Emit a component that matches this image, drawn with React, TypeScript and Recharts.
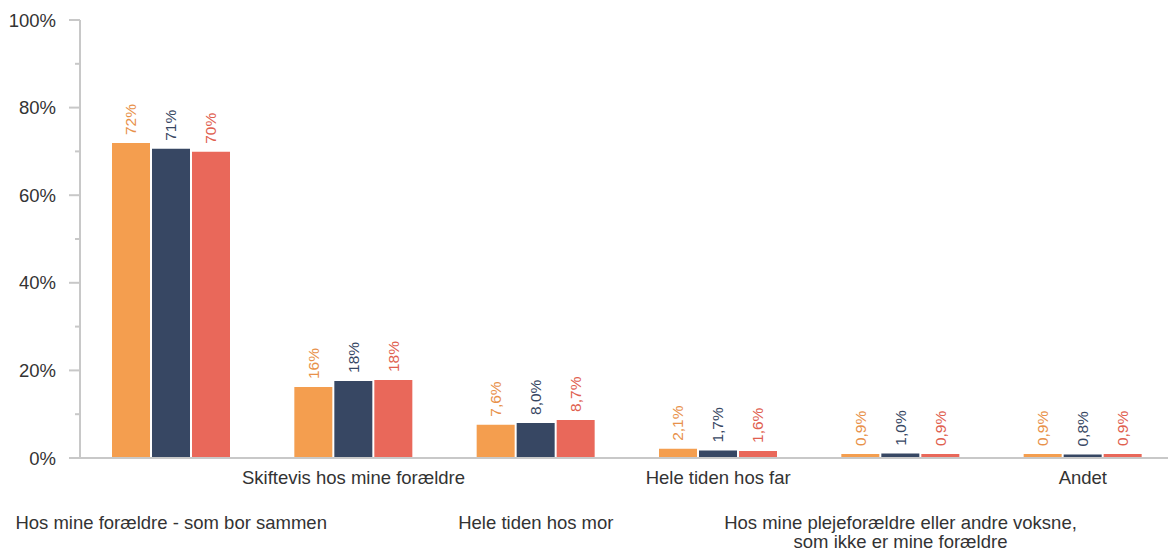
import React from 'react';
import { BarChart, Bar, XAxis, YAxis, LabelList } from 'recharts';

const categories = [
    'Hos mine forældre - som bor sammen',
    'Skiftevis hos mine forældre',
    'Hele tiden hos mor',
    'Hele tiden hos far',
    'Hos mine plejeforældre eller andre voksne, som ikke er mine forældre',
    'Andet',
];
const seriesA = [71.9, 16.2, 7.6, 2.1, 0.9, 0.9];
const seriesB = [70.6, 17.6, 8.0, 1.7, 1.0, 0.8];
const seriesC = [69.9, 17.8, 8.7, 1.6, 0.9, 0.9];
const yTicks = [0, 10, 20, 30, 40, 50, 60, 70, 80, 90, 100];

const COLORS = {
    a: { bar: '#F49E4F', label: '#E8914A' },
    b: { bar: '#374763', label: '#374763' },
    c: { bar: '#E9685A', label: '#E0604F' },
};

const data = categories.map((name, i) => ({
    name,
    a: seriesA[i],
    b: seriesB[i],
    c: seriesC[i],
}));

const FONT = '"Liberation Sans", Arial, sans-serif';

const fmt = (v: number) =>
    v >= 10 ? `${Math.round(v)}%` : `${v.toFixed(1).replace('.', ',')}%`;

const makeLabel = (color: string) => (props: any) => {
    const { x, y, width, value } = props;
    const cx = Number(x) + Number(width) / 2;
    const ty = Number(y) - 8;
    return (
        <text
            x={cx}
            y={ty}
            transform={`rotate(-90, ${cx}, ${ty})`}
            textAnchor="start"
            dominantBaseline="central"
            fill={color}
            fontSize={15.5}
            fontFamily={FONT}
        >
            {fmt(Number(value))}
        </text>
    );
};

const YTick = (props: any) => {
    const { x, y, payload } = props;
    const major = payload.value % 20 === 0;
    return (
        <g>
            <line x1={x - (major ? 11 : 5)} x2={x} y1={y} y2={y} stroke="#c8c8c8" strokeWidth={2} />
            {major && (
                <text
                    x={x - 24}
                    y={y}
                    textAnchor="end"
                    dominantBaseline="central"
                    fill="#333"
                    fontSize={18.5}
                    fontFamily={FONT}
                >
                    {payload.value}%
                </text>
            )}
        </g>
    );
};

const XTick = (props: any) => {
    const { x, y, payload, index } = props;
    const text: string = payload.value;
    const lines = text.includes(', ') ? [text.split(', ')[0] + ',', text.split(', ')[1]] : [text];
    const base = index % 2 === 1 ? 26 : 71;
    return (
        <text textAnchor="middle" fill="#333" fontSize={18.5} fontFamily={FONT}>
            {lines.map((l, i) => (
                <tspan key={i} x={x} y={y + base + i * 19}>
                    {l}
                </tspan>
            ))}
        </text>
    );
};

export default function App() {
    return (
        <div
            style={{
                position: 'absolute',
                left: 0,
                top: 0,
                width: 1168,
                height: 552,
                overflow: 'hidden',
                background: '#fff',
            }}
        >
            <BarChart
                width={1174}
                height={552}
                data={data}
                margin={{ top: 20, right: 0, bottom: 4, left: 0 }}
                barCategoryGap={32}
                barGap={2}
            >
                <YAxis
                    domain={[0, 100]}
                    ticks={yTicks}
                    interval={0}
                    width={80}
                    tickSize={0}
                    tickMargin={0}
                    tickLine={false}
                    axisLine={{ stroke: '#c8c8c8', strokeWidth: 2 }}
                    tick={<YTick />}
                />
                <XAxis
                    dataKey="name"
                    interval={0}
                    height={90}
                    tickSize={0}
                    tickMargin={0}
                    tickLine={false}
                    axisLine={{ stroke: '#c8c8c8', strokeWidth: 2 }}
                    tick={<XTick />}
                />
                <Bar dataKey="a" fill={COLORS.a.bar} isAnimationActive={false}>
                    <LabelList dataKey="a" content={makeLabel(COLORS.a.label)} />
                </Bar>
                <Bar dataKey="b" fill={COLORS.b.bar} isAnimationActive={false}>
                    <LabelList dataKey="b" content={makeLabel(COLORS.b.label)} />
                </Bar>
                <Bar dataKey="c" fill={COLORS.c.bar} isAnimationActive={false}>
                    <LabelList dataKey="c" content={makeLabel(COLORS.c.label)} />
                </Bar>
            </BarChart>
        </div>
    );
}
